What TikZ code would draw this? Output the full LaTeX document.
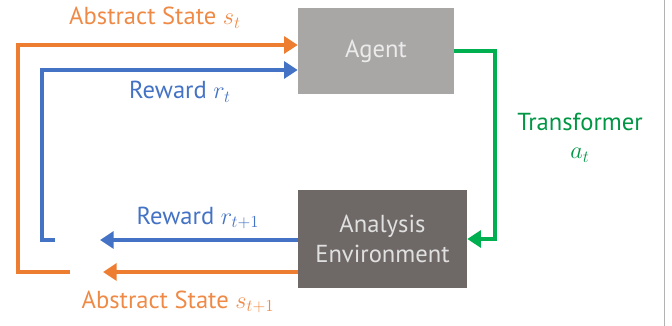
\documentclass[tikz,border=0pt]{standalone}
\usepackage{fontspec}
\setmainfont{PT Sans}
\usetikzlibrary{positioning,arrows.meta}
\definecolor{loopgreen}{HTML}{00B050}
\definecolor{loopblue}{HTML}{4472C4}
\definecolor{looporange}{HTML}{ED7D31}
\definecolor{agentgray}{RGB}{169,167,166}
\definecolor{envgray}{RGB}{110,104,103}
\tikzset{
  looparrow/.style={-{Triangle[length=3.4mm,width=4.2mm]}, line width=2.8pt},
  agentbox/.style={fill=agentgray, text=white!92!black, minimum width=3.9cm, minimum height=2.15cm, align=center, font=\fontsize{17.5}{21}\selectfont},
  envbox/.style={fill=envgray, text=white!88!black, minimum width=4.225cm, minimum height=2.45cm, align=center, font=\fontsize{17.5}{21}\selectfont},
  looplabel/.style={font=\fontsize{17.5}{21}\selectfont, inner sep=1pt}
}
\begin{document}
\begin{tikzpicture}[>=Latex]
  \useasboundingbox (0,0) rectangle (16.8,8.15);
  \draw[black!30, line width=0.6pt] (16.6,0) -- (16.6,8.15);
  \node[agentbox] (agent) at (9.4,6.875) {Agent};
  \node[envbox] (env) at (9.5625,2.175) {Analysis\\Environment};
  % corners of the two feedback loops
  \coordinate (otop) at (0.45,7.025);
  \coordinate (obot) at (0.45,1.35);
  \coordinate (oend) at (1.75,1.35);
  \coordinate (btop) at (1.05,6.4);
  \coordinate (bbot) at (1.05,2.15);
  \coordinate (bend) at (1.375,2.15);
  \coordinate (gcorner) at (12.375,6.875);
  \draw[looparrow, looporange] (env.west |- obot) -- (2.575,1.35);
  \draw[looparrow, loopblue] (env.west |- bbot) -- (2.5,2.15);
  \draw[looparrow, looporange] (oend) -- (obot) -- (otop) -- (agent.west |- otop);
  \draw[looparrow, loopblue] (bend) -- (bbot) -- (btop) -- (agent.west |- btop);
  \draw[looparrow, loopgreen] (agent.east) -- (gcorner) -- (gcorner |- env.east) -- (env.east);
  \node[looplabel, text=looporange!90!white] (stlabel) at (3.875,7.7) {Abstract State $s_t$};
  \node[looplabel, text=loopblue] (rtlabel) at (4.5,5.85) {Reward $r_t$};
  \node[looplabel, text=loopgreen!85!black] (translabel) at (14.5,5.1) {Transformer};
  \node[looplabel, text=loopgreen!85!black] (atlabel) at (14.5,4.275) {$a_t$};
  \node[looplabel, text=loopblue] (rnlabel) at (4.95,2.7) {Reward $r_{t+1}$};
  \node[looplabel, text=looporange!90!white] (snlabel) at (4.45,0.6) {Abstract State $s_{t+1}$};
\end{tikzpicture}
\end{document}
